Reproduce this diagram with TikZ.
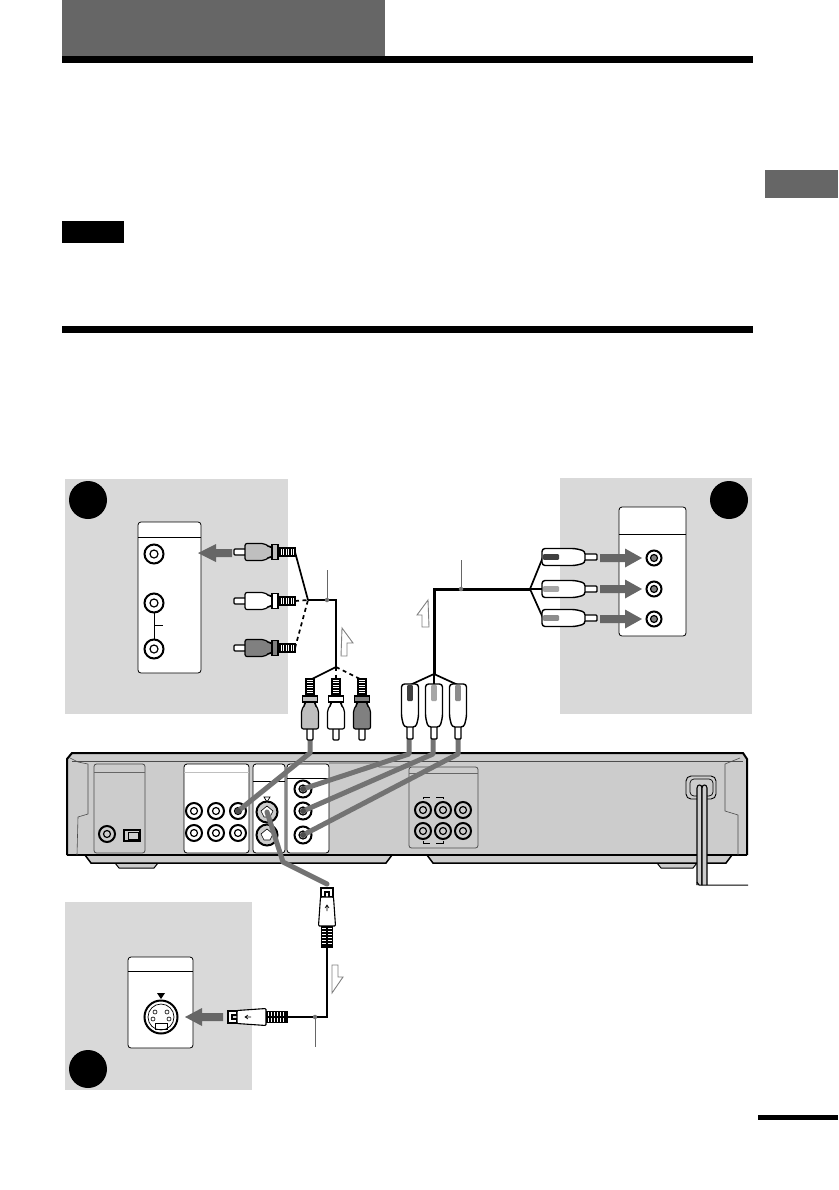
\documentclass[tikz,border=0pt]{standalone}
\usepackage{color,tikz}
\definecolor{panelgray}{gray}{.85}
\definecolor{unitgray}{gray}{.8}
\definecolor{bargray}{gray}{.4}
\definecolor{cordgray}{gray}{.45}
\tikzset{
	jack/.style={circle,draw,line width=2,fill=white,minimum size=#1,inner sep=0},
	jackin/.style={circle,draw,line width=1.2,minimum size=#1,inner sep=0},
	bay/.style={draw,line width=.8,rounded corners=3,fill=white},
	inlet/.style={draw=black!70,line width=.8,rounded corners=2.5,fill=unitgray},
	marker/.style={circle,fill=black,minimum size=38,inner sep=0},
	cable/.style={line width=2.6},
	tail/.style={line width=1.7},
	tailgap/.style={tail,dash pattern=on 4 off 3.5},
	cord/.style={cordgray,line width=5,line cap=round,line join=round},
	leader/.style={black!60,line width=.9},
	leaddot/.style={circle,fill=black!55,minimum size=4.5,inner sep=0},
	hint/.style={draw=black!50,line width=.9,fill=white},
}
% phono plug, tip at (#1,#2), turned by #3
\newcommand{\phonoplug}[4]{
	\begin{scope}[shift={(#1,#2)},rotate=#3,line width=1.2]
		\draw[fill=white,rounded corners=1] (0,-3)--(12,-3)--(12,3)--(0,3)--cycle;
		\draw[fill=#4,rounded corners=2] (11,-8.5)--(30,-8.5)--(36,-5)--(38,-5)--(38,5)--(36,5)--(30,8.5)--(11,8.5)--cycle;
		\draw[fill=#4] (38,-7.5)--(44,-7.5)--(44,7.5)--(38,7.5)--cycle;
		\draw[fill=white] (44,-4)--(61,-4)--(61,4)--(44,4)--cycle;
		\foreach \ii in {46,48.5,...,59} {\draw[line width=1.3] (\ii,-4)--(\ii,4);}
	\end{scope}
}
% component plug, tip at (#1,#2)
\newcommand{\compplug}[4]{
	\begin{scope}[shift={(#1,#2)},rotate=#3,line width=1.4]
		\draw[fill=white,rounded corners=1] (0,-3)--(13,-3)--(13,3)--(0,3)--cycle;
		\draw[fill=white,rounded corners=3] (12,-6)--(22,-8.5)--(55,-8.5)--(55,8.5)--(22,8.5)--(12,6)--cycle;
		\fill[#4,rounded corners=1] (54,-2.8)--(38,-2.8)--(38,2.8)--(54,2.8)--cycle;
	\end{scope}
}
% s-video plug, pins at (#1,#2)
\newcommand{\svplug}[3]{
	\begin{scope}[shift={(#1,#2)},rotate=#3,line width=1.1]
		\draw[fill=white] (0,-6)--(9,-6)--(9,-2)--(4,-2)--(4,2)--(9,2)--(9,6)--(0,6)--cycle;
		\draw[fill=white,rounded corners=1] (9,-6.5)--(38,-8.5)--(38,8.5)--(9,6.5)--cycle;
		\draw[line width=.6] (17,0)--(23,0) (20,-2)--(17,0)--(20,2);
		\draw[fill=white] (39,-5.5)--(59,-5.5)--(59,5.5)--(39,5.5)--cycle;
		\foreach \ii in {42,45,...,57} {\draw[line width=1.4] (\ii,-5.5)--(\ii,5.5);}
		\draw (39,0)--(59,0);
	\end{scope}
}
\begin{document}
\begin{tikzpicture}[x=1pt,y=-1pt]
	\useasboundingbox (0,0) rectangle (838,1190);

	% page furniture
	\fill[bargray] (62,0) rectangle (385,56);
	\fill (62,56) rectangle (753,63);
	\fill (62,221) rectangle (124,243);
	\fill (62,326) rectangle (753,333);
	\fill[bargray] (765,170) rectangle (838,198);
	\fill (758,1115) rectangle (838,1120);

	% the three shaded panels
	\fill[panelgray] (65,479) rectangle (288,714);
	\fill[panelgray] (560,478) rectangle (752,714);
	\fill[panelgray] (65,902) rectangle (252,1090);
	\node[marker] (markA) at (88,500) {};
	\node[marker] (markB) at (729,500) {};
	\node[marker] (markC) at (88,1069) {};

	% left panel
	\draw[bay] (138,522) rectangle (201,673);
	\draw[line width=.9] (138,537)--(201,537);
	\draw[line width=.9] (154,603)--(154,649) (154,625)--(163,625);
	\foreach \nn/\yy in {a/554,b/603,c/649}
	{
		\node[jack=19] (tv\nn) at (154,\yy) {};
		\node[jackin=8] at (154,\yy) {};
	}
	\fill[bargray] (232,549)--(216,549)--(216,544)--(198,553)--(216,562)--(216,557)--(232,557)--cycle;

	% right panel
	\draw[bay] (619,507) rectangle (686,636);
	\draw[line width=.9] (619,534)--(686,534);
	\foreach \nn/\yy in {a/558,b/589,c/619}
	{
		\node[jack=15] (cp\nn) at (654,\yy) {};
		\node[jackin=7,fill=black!50] at (654,\yy) {};
		\fill[bargray] (600,\yy-4)--(625,\yy-4)--(625,\yy-9.5)--(642,\yy)--(625,\yy+9.5)--(625,\yy+4)--(600,\yy+4)--cycle;
	}

	% lower panel
	\draw[bay] (128,957) rectangle (193,1048);
	\draw[line width=.9] (128,971)--(193,971);
	\fill (157,993)--(165,993)--(161,999)--cycle;
	\node[jack=33] (svtv) at (161,1017) {};
	\draw[line width=.7] (161,1017) circle (13);
	\foreach \xx/\yy in {155/1012,167/1012,153/1019,169/1019}
	{
		\draw[line width=.6] (\xx,\yy) circle (2);
	}
	\draw[line width=.6] (155,1023) rectangle (167,1029);
	\fill[bargray] (223,1013)--(202,1013)--(202,1008)--(185,1017)--(202,1026)--(202,1021)--(223,1021)--cycle;

	% the unit
	\draw[fill=unitgray,line width=1] (115,863)--(158,863)--(154,868)--(119,868)--cycle;
	\draw[fill=unitgray,line width=1] (657,863)--(697,863)--(693,868)--(661,868)--cycle;
	\draw[fill=unitgray,line width=1.5] (85,855)--(91,863)--(386,863)--(392,855)--cycle;
	\draw[fill=unitgray,line width=1.5] (427,855)--(433,863)--(726,863)--(732,855)--cycle;
	\fill[unitgray] (67,855)--(67,759)--(72,753)--(743,753)--(747,759)--(747,855)--cycle;
	\draw[line width=2] (67,855)--(67,759)--(72,753)--(743,753)--(747,759)--(747,855);
	\draw[line width=1.6] (67,855)--(747,855);
	\draw[black!70,line width=.8] (72,761)--(743,761);
	\draw[black!70,line width=.6] (70,758)--(78,762)--(88,764)--(88,814)--(78,817)--(77,855);
	\draw[black!70,line width=.6] (740,758)--(730,762)--(725,764)--(725,811)--(738,815)--(738,855);
	\draw[inlet] (94,764) rectangle (145,853);
	\draw[black!60,line width=.6] (94,772)--(145,772);
	\draw[inlet] (409,767) rectangle (478,848);
	\draw[black!60,line width=.6] (409,773)--(478,773);
	\draw[black!70,line width=.7] (329,763)--(377,763)--(379,767)--(409,767);
	\draw[bay] (184,764) rectangle (249,853);
	\draw[black!25,line width=.8] (184,772)--(249,772);
	\draw[bay] (253,764) rectangle (285,853);
	\draw[line width=.7] (253,781)--(285,781);
	\draw[bay] (287,764) rectangle (329,853);
	\draw[line width=.7] (287,778)--(329,778);
	\node[jack=16,fill=unitgray] (optjack) at (107,834) {};
	\node[jackin=7] at (107,834) {};
	\draw[fill=unitgray,line width=1.4] (124,830) rectangle (140,841);
	\draw[line width=.8] (128,832) rectangle (138,839);
	\foreach \xx/\nn in {194/a,216/b,238/c}
	{
		\node[jack=16] (au\nn) at (\xx,811) {};
		\node[jackin=7] at (\xx,811) {};
		\node[jack=16] (ad\nn) at (\xx,833) {};
		\node[jackin=7] at (\xx,833) {};
	}
	\foreach \yy/\nn in {789/a,811/b,835/c}
	{
		\node[jack=17] (yc\nn) at (303,\yy) {};
		\node[jackin=8] at (303,\yy) {};
	}
	\foreach \xx/\nn in {423/a,443/b,463/c}
	{
		\node[jack=16,fill=unitgray] (su\nn) at (\xx,810) {};
		\node[jackin=7] at (\xx,810) {};
		\node[jack=16,fill=unitgray] (sd\nn) at (\xx,831) {};
		\node[jackin=7] at (\xx,831) {};
	}
	\draw[line width=.8] (423,799)--(423,797)--(430,797) (436,797)--(443,797)--(443,799);
	\draw[line width=.8] (423,841)--(423,843)--(430,843) (436,843)--(443,843)--(443,841);
	\draw[line width=.7] (264,797)--(270,797)--(267,802)--cycle;
	\foreach \yy/\nn in {812/a,835/b}
	{
		\node[jack=21,fill=unitgray] (sv\nn) at (267,\yy) {};
		\draw[fill=white,line width=.6] (261,\yy-1)--(267,\yy-6)--(273,\yy-1)--(270,\yy+5)--(264,\yy+5)--cycle;
	}

	% power cord
	\draw[line width=.9,rounded corners=5] (686,776) rectangle (716,799);
	\draw[line width=.7,rounded corners=4] (690,779) rectangle (713,796);
	\draw[line width=1.1,fill=unitgray] (697,885)--(697,788) .. controls (697,784) and (702,784) .. (702,788)--(702,885);
	\draw[line width=1.1,fill=unitgray] (702,885)--(702,788) .. controls (702,784) and (707,784) .. (707,788)--(707,885);
	\draw[line width=1] (697,882)--(699,885)--(748,885);

	% gray cords to the unit
	\coordinate (cordA) at (310,738);
	\coordinate (cordB) at (409,738);
	\coordinate (cordC) at (433,738);
	\coordinate (cordD) at (458,738);
	\draw[cord] (cordA)--++(0,15)--(auc.center);
	\draw[cord] (cordB)--++(0,16)--(yca.center);
	\draw[cord] (cordC)--++(0,16)--(ycb.center);
	\draw[cord] (cordD)--++(0,16)--(ycc.center);
	\draw[cord] (sva.center)--(283,862)--(327,884);
	\foreach \nn in {a,b,c}
	{
		\fill[black!70] (yc\nn) circle (3);
	}
	\fill[black!70] (auc) circle (3);

	% audio lead
	\coordinate (tvjoin) at (308,600);
	\coordinate (tvturn) at (336,600);
	\coordinate (rearjoin) at (336,667);
	\draw[tail] (295,552)--(tvjoin);
	\draw[tailgap] (295,601)--(tvjoin);
	\draw[tailgap] (295,648)--(tvjoin);
	\draw[cable,line join=miter] (tvjoin)--(tvturn)--(rearjoin);
	\draw[tail] (rearjoin)--(310,680);
	\draw[tailgap] (rearjoin)--(336,680);
	\draw[tailgap] (rearjoin)--(362,680);
	\phonoplug{234}{552}{0}{black!25}
	\phonoplug{234}{601}{0}{white}
	\phonoplug{234}{648}{0}{black!50}
	\phonoplug{310}{740}{90}{black!25}
	\phonoplug{336}{740}{90}{white}
	\phonoplug{362}{740}{90}{black!50}
	\node[leaddot] (audot) at (327,600) {};
	\draw[leader] (audot)--(327,570);
	\draw[hint] (342,628)--(353,643)--(347,643)--(347,656)--(341,656)--cycle;

	% component lead
	\coordinate (cpturn) at (434,589);
	\coordinate (cpjoin) at (530,589);
	\coordinate (compjoin) at (434,674);
	\draw[cable,line width=3] (compjoin)--(cpturn)--(cpjoin);
	\foreach \xx in {410,434,458}
	{
		\draw[tail] (compjoin)--(\xx,685);
	}
	\foreach \yy in {557,589,618}
	{
		\draw[tail] (cpjoin)--(543,\yy);
	}
	\compplug{597}{557}{180}{black!75}
	\compplug{597}{589}{180}{black!35}
	\compplug{597}{618}{180}{black!45}
	\compplug{410}{739}{90}{black!75}
	\compplug{434}{739}{90}{black!35}
	\compplug{458}{739}{90}{black!45}
	\node[leaddot] (cpdot) at (461,589) {};
	\draw[leader] (cpdot)--(461,560);
	\draw[hint] (428,600)--(417,615)--(422,615)--(422,627)--(429,627)--cycle;

	% s-video lead
	\coordinate (svturn) at (327,1017);
	\coordinate (svend) at (327,946);
	\node[leaddot] (svdot) at (315,1017) {};
	\draw[cable] (svend)--(svturn)--(svdot);
	\draw[tail,line width=1.6] (svdot)--(287,1017);
	\draw[leader] (svdot)--(315,1047);
	\svplug{228}{1017}{0}
	\svplug{327}{888}{-90}
	\draw[hint] (332,965)--(338,965)--(338,977)--(343,977)--(332,993)--cycle;
\end{tikzpicture}
\end{document}
